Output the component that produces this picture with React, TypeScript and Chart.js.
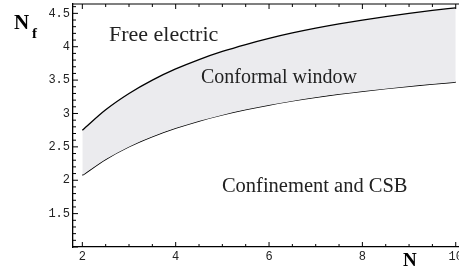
import React, { useEffect, useRef } from "react";
import { Chart, registerables } from "chart.js";

Chart.register(...registerables);

// Data
const nValues = [2, 2.5, 3, 3.5, 4, 4.5, 5, 5.5, 6, 6.5, 7, 7.5, 8, 8.5, 9, 9.5, 10];
const upperNf = [2.75, 3.056, 3.3, 3.5, 3.667, 3.808, 3.929, 4.033, 4.125, 4.206, 4.278, 4.342, 4.4, 4.452, 4.5, 4.543, 4.583];
const lowerNf = [2.075, 2.313, 2.502, 2.654, 2.781, 2.888, 2.979, 3.058, 3.127, 3.188, 3.242, 3.29, 3.333, 3.372, 3.408, 3.44, 3.47];

const xMin = 1.8;
const xMax = 10.07;
const yMin = 1;
const yMax = 4.64;

const regionLabels = ["Free electric", "Conformal window", "Confinement and CSB"];
const regionLabelN = [2.57, 4.54, 4.99];
const regionLabelNf = [4.09, 3.46, 1.82];
const regionLabelSize = [22, 20, 20.5];

const SERIF = "'Liberation Serif', 'DejaVu Serif', serif";
const MONO = "'Liberation Mono', 'DejaVu Sans Mono', monospace";

const framePlugin = {
  id: "framePlugin",
  afterDatasetsDraw(chart: any) {
    const { ctx, chartArea, scales } = chart;
    const xs = scales.x;
    const ys = scales.y;
    ctx.save();
    ctx.strokeStyle = "#000";
    ctx.lineWidth = 1.2;
    // top frame line
    ctx.beginPath();
    ctx.moveTo(chartArea.left, chartArea.top);
    ctx.lineTo(chartArea.right, chartArea.top);
    ctx.stroke();
    ctx.lineWidth = 1;
    // x ticks (bottom & top, pointing inward)
    for (let i = 0; ; i++) {
      const v = 2 + i * 0.5;
      if (v > xMax) break;
      const px = xs.getPixelForValue(v);
      const major = Math.abs(v / 2 - Math.round(v / 2)) < 1e-6;
      const len = major ? 5 : 3;
      ctx.beginPath();
      ctx.moveTo(px, chartArea.bottom);
      ctx.lineTo(px, chartArea.bottom - len);
      ctx.moveTo(px, chartArea.top);
      ctx.lineTo(px, chartArea.top + len);
      ctx.stroke();
    }
    // y ticks
    for (let i = 0; ; i++) {
      const v = 1 + i * 0.1;
      if (v > yMax + 1e-6) break;
      const py = ys.getPixelForValue(v);
      const major = Math.abs(v * 2 - Math.round(v * 2)) < 1e-6;
      const len = major ? 5 : 3;
      ctx.beginPath();
      ctx.moveTo(chartArea.left, py);
      ctx.lineTo(chartArea.left + len, py);
      ctx.stroke();
    }
    // region labels
    ctx.fillStyle = "#222";
    ctx.textAlign = "left";
    ctx.textBaseline = "alphabetic";
    regionLabels.forEach((t, i) => {
      ctx.font = `${regionLabelSize[i]}px ${SERIF}`;
      ctx.fillText(t, xs.getPixelForValue(regionLabelN[i]), ys.getPixelForValue(regionLabelNf[i]));
    });
    // axis titles
    ctx.fillStyle = "#000";
    ctx.font = `bold 21px ${SERIF}`;
    ctx.fillText("N", 14, 29);
    ctx.font = `bold 15px ${SERIF}`;
    ctx.fillText("f", 32, 38);
    ctx.font = `bold 19px ${SERIF}`;
    ctx.fillText("N", xs.getPixelForValue(8.87), chart.height - 2);
    ctx.restore();
  },
};

export default function App() {
  const ref = useRef<HTMLCanvasElement | null>(null);
  useEffect(() => {
    if (!ref.current) return;
    const chart = new Chart(ref.current, {
      type: "line",
      data: {
        datasets: [
          {
            data: nValues.map((n, i) => ({ x: n, y: upperNf[i] })),
            borderColor: "#000",
            borderWidth: 1.3,
            pointRadius: 0,
            cubicInterpolationMode: "monotone",
            fill: "+1",
            backgroundColor: "#ebebee",
          },
          {
            data: nValues.map((n, i) => ({ x: n, y: lowerNf[i] })),
            borderColor: "#000",
            borderWidth: 1.4,
            pointRadius: 0,
            cubicInterpolationMode: "monotone",
            fill: false,
          },
        ],
      },
      options: {
        responsive: false,
        animation: false,
        layout: { padding: { top: 4, right: 0, left: 0, bottom: 0 } },
        plugins: { legend: { display: false }, tooltip: { enabled: false } },
        scales: {
          x: {
            type: "linear",
            min: xMin,
            max: xMax,
            grid: { display: false, drawTicks: false },
            border: { display: true, color: "#000", width: 1.3 },
            ticks: {
              stepSize: 2,
              includeBounds: false,
              autoSkip: false,
              maxRotation: 0,
              padding: 3,
              color: "#222",
              font: { family: MONO, size: 12 },
            },
            afterFit: (s: any) => {
              s.height = 21;
              s.paddingLeft = 0;
              s.paddingRight = 0;
            },
          },
          y: {
            type: "linear",
            min: yMin,
            max: yMax,
            grid: { display: false, drawTicks: false },
            border: { display: true, color: "#000", width: 1.3 },
            ticks: {
              stepSize: 0.5,
              includeBounds: false,
              autoSkip: false,
              padding: 3,
              color: "#222",
              font: { family: MONO, size: 12 },
              callback: (v: any) => (Math.abs(Number(v) - 1) < 1e-6 ? "" : String(v)),
            },
            afterFit: (s: any) => {
              s.width = 73;
              s.paddingTop = 0;
              s.paddingBottom = 0;
            },
          },
        },
      },
      plugins: [framePlugin],
    } as any);
    return () => chart.destroy();
  }, []);
  return (
    <div style={{ position: "fixed", left: 0, top: 0, width: 459, height: 268, background: "#fff" }}>
      <canvas ref={ref} width={459} height={268} style={{ display: "block" }} />
    </div>
  );
}
